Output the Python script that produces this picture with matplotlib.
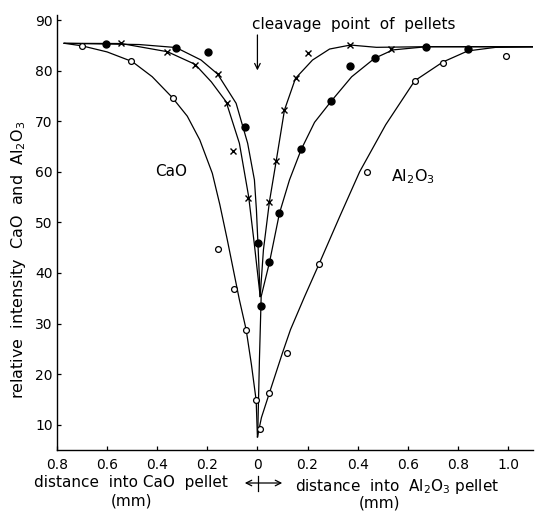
"""
CaO / Al2O3 pellet cleavage intensity profiles
"""
import matplotlib
matplotlib.use("Agg")
import matplotlib.pyplot as plt
from matplotlib.lines import Line2D

plt.rcParams['font.family'] = ['DejaVu Sans']

# ── data: x < 0 is into CaO pellet, x > 0 into Al2O3 pellet (mm) ──────────────
# measured points
open_x = [-0.70, -0.504, -0.336, -0.156, -0.092, -0.044, -0.005, 0.012, 0.048, 0.12, 0.245, 0.439, 0.628, 0.739, 0.992]
open_y = [84.9, 81.9, 74.6, 44.8, 36.9, 28.8, 14.8, 9.2, 16.3, 24.2, 41.8, 60.0, 78.0, 81.6, 82.9]

cross_x = [-0.544, -0.36, -0.249, -0.156, -0.123, -0.099, -0.039, 0.045, 0.075, 0.108, 0.152, 0.201, 0.371, 0.535]
cross_y = [85.4, 83.7, 81.2, 79.3, 73.7, 64.1, 54.9, 54.1, 62.1, 72.2, 78.5, 83.4, 85.1, 84.2]

dot_x = [-0.604, -0.325, -0.199, -0.048, 0.001, 0.015, 0.048, 0.088, 0.175, 0.292, 0.368, 0.468, 0.671, 0.841]
dot_y = [85.2, 84.5, 83.6, 68.8, 45.9, 33.4, 42.1, 51.8, 64.5, 74.0, 80.9, 82.4, 84.7, 84.2]

# hand-drawn fitted curves
open_cao_x = [-0.77, -0.70, -0.60, -0.50, -0.42, -0.34, -0.28, -0.23, -0.18, -0.15, -0.12, -0.096, -0.072, -0.045, -0.024, -0.005, 0.0]
open_cao_y = [85.4, 84.9, 83.7, 81.8, 78.8, 74.7, 71.0, 66.3, 59.7, 53.5, 46.5, 40.6, 34.7, 28.8, 21.9, 14.8, 7.6]
open_al_x = [0.0, 0.016, 0.048, 0.10, 0.132, 0.188, 0.248, 0.328, 0.408, 0.512, 0.628, 0.74, 0.84, 0.95, 1.10]
open_al_y = [7.6, 11.4, 16.3, 24.2, 28.8, 35.3, 42.0, 51.1, 60.0, 69.3, 78.0, 81.7, 83.9, 84.6, 84.7]

cross_cao_x = [-0.772, -0.544, -0.359, -0.249, -0.184, -0.125, -0.072, -0.035, -0.012, 0.011]
cross_cao_y = [85.4, 85.36, 83.74, 81.25, 77.78, 73.86, 65.64, 55.10, 45.56, 35.35]
cross_al_x = [0.011, 0.024, 0.048, 0.075, 0.108, 0.152, 0.22, 0.288, 0.371, 0.475, 0.675, 1.10]
cross_al_y = [35.35, 44.57, 54.11, 62.15, 72.22, 78.48, 82.10, 84.27, 85.06, 84.61, 84.73, 84.73]

dot_cao_x = [-0.772, -0.472, -0.325, -0.225, -0.159, -0.085, -0.039, -0.012, -0.004, 0.002, 0.011]
dot_cao_y = [85.4, 85.16, 84.57, 82.10, 79.33, 73.54, 65.64, 58.40, 52.47, 45.95, 35.35]
dot_al_x = [0.001, 0.008, 0.015, 0.048, 0.088, 0.128, 0.175, 0.228, 0.295, 0.376, 0.468, 0.541, 0.675, 1.10]
dot_al_y = [7.63, 22.84, 35.35, 42.07, 51.82, 58.40, 64.44, 69.78, 73.99, 78.78, 82.45, 84.10, 84.73, 84.73]

x_ticks = [-0.8, -0.6, -0.4, -0.2, 0.0, 0.2, 0.4, 0.6, 0.8, 1.0]
x_tick_labels = ["0.8", "0.6", "0.4", "0.2", "0", "0.2", "0.4", "0.6", "0.8", "1.0"]
y_ticks = [10, 20, 30, 40, 50, 60, 70, 80, 90]

# ── figure ───────────────────────────────────────────────────────────────────
W, H = 541, 512
fig = plt.figure(figsize=(W / 100, H / 100), dpi=100)
ax = fig.add_axes([57 / W, 1 - 450 / H, 476 / W, 435 / H])

LW = 0.9
for cx, cy in [(open_cao_x, open_cao_y), (open_al_x, open_al_y),
               (cross_cao_x, cross_cao_y), (cross_al_x, cross_al_y),
               (dot_cao_x, dot_cao_y), (dot_al_x, dot_al_y)]:
    ax.plot(cx, cy, color="black", lw=LW, zorder=2)

ax.plot(open_x, open_y, linestyle="none", marker="o", ms=4.2, mfc="white", mec="black", mew=0.9, zorder=3)
ax.plot(cross_x, cross_y, linestyle="none", marker="x", ms=5, mec="black", mew=1.0, zorder=3)
ax.plot(dot_x, dot_y, linestyle="none", marker="o", ms=5, mfc="black", mec="black", zorder=3)

ax.set_xlim(-0.8, 1.1)
ax.set_ylim(5, 91.0)
ax.set_xticks(x_ticks)
ax.set_xticklabels(x_tick_labels)
ax.set_yticks(y_ticks)
ax.tick_params(direction="in", length=3, width=0.9, labelsize=10)
ax.tick_params(axis="x", pad=6)
ax.tick_params(axis="y", pad=3)
for s in ["top", "right"]:
    ax.spines[s].set_visible(False)
for s in ["left", "bottom"]:
    ax.spines[s].set_linewidth(1.0)

# annotations
ax.text(-0.02, 89.2, "cleavage  point  of  pellets", ha="left", va="center", fontsize=11)
ax.annotate("", xy=(0, 79.5), xytext=(0, 87.6),
            arrowprops=dict(arrowstyle="->", lw=LW, color="black"))
ax.text(-0.344, 60, "CaO", ha="center", va="center", fontsize=11)
ax.text(0.62, 59, r"Al$_2$O$_3$", ha="center", va="center", fontsize=11.5)

fig.text(19 / W, 1 - 260 / H, r"relative  intensity  CaO  and  Al$_2$O$_3$",
         rotation=90, ha="center", va="center", fontsize=11.5)

fig.text(228 / W, 1 - 487 / H, "distance  into CaO  pellet", ha="right", va="baseline", fontsize=11)
fig.text(295 / W, 1 - 491 / H, r"distance  into  Al$_2$O$_3$ pellet", ha="left", va="baseline", fontsize=11)
fig.text(131 / W, 1 - 506 / H, "(mm)", ha="center", va="baseline", fontsize=11)
fig.text(379 / W, 1 - 507 / H, "(mm)", ha="center", va="baseline", fontsize=11)

ax.annotate("", xy=(285, H - 483), xytext=(242, H - 483),
            xycoords="figure pixels", textcoords="figure pixels",
            arrowprops=dict(arrowstyle="<->", lw=LW, color="black"), annotation_clip=False)
fig.add_artist(Line2D([258 / W, 258 / W], [1 - 476 / H, 1 - 491 / H],
                      transform=fig.transFigure, color="black", lw=LW))

fig.savefig("out.png", dpi=100, facecolor="white")
